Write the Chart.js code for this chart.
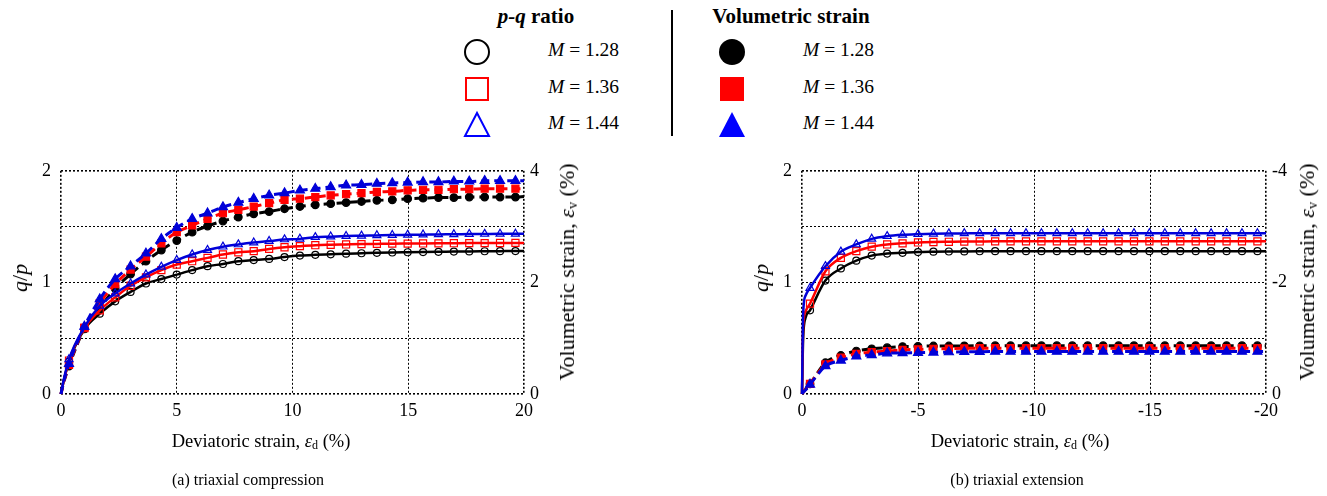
<!DOCTYPE html>
<html>
<head>
<meta charset="utf-8">
<script src="https://cdn.jsdelivr.net/npm/chart.js@4.4.1/dist/chart.umd.min.js"></script>
<style>
  body { margin: 0; width: 1327px; height: 496px; overflow: hidden; background: #fff; position: relative;
         font-family: "Liberation Serif", "Times New Roman", serif; color: #000; }
  .box { position: absolute; top: 150px; height: 300px; }
  .abs { position: absolute; white-space: nowrap; }
  .ctr { position: absolute; white-space: nowrap; transform: translate(-50%, -50%); }
  .rot { position: absolute; white-space: nowrap; transform: translate(-50%, -50%) rotate(-90deg); font-size: 22px; }
  .lt { font-size: 21px; font-weight: bold; }
  .mt { font-size: 19.5px; transform: translateY(-50%); }
  .sym { position: absolute; transform: translate(-50%, -50%); }
  sub { font-size: 0.65em; vertical-align: -0.2em; line-height: 0; }
</style>
</head>
<body>

<!-- legend -->
<div class="ctr lt" style="left:536px; top:16px;"><i>p-q</i> ratio</div>
<div class="ctr lt" style="left:791px; top:16px;">Volumetric strain</div>
<div class="abs" style="left:671px; top:10px; width:2px; height:126px; background:#000;"></div>

<svg class="sym" style="left:477px; top:52px;" width="30" height="30"><circle cx="15" cy="15" r="12" fill="none" stroke="#000" stroke-width="2"/></svg>
<svg class="sym" style="left:477px; top:89px;" width="30" height="30"><rect x="4" y="4" width="22" height="22" fill="none" stroke="#ff0000" stroke-width="2"/></svg>
<svg class="sym" style="left:477px; top:124px;" width="30" height="30"><polygon points="3,27 27,27 15,4" fill="none" stroke="#0000ff" stroke-width="2"/></svg>
<svg class="sym" style="left:732px; top:52px;" width="30" height="30"><circle cx="15" cy="15" r="13" fill="#000"/></svg>
<svg class="sym" style="left:732px; top:89px;" width="30" height="30"><rect x="3" y="3" width="24" height="24" fill="#ff0000"/></svg>
<svg class="sym" style="left:732px; top:124px;" width="30" height="30"><polygon points="2,28 28,28 15,3" fill="#0000ff"/></svg>

<div class="abs mt" style="left:548px; top:50px;"><i>M</i> = 1.28</div>
<div class="abs mt" style="left:548px; top:87px;"><i>M</i> = 1.36</div>
<div class="abs mt" style="left:548px; top:123px;"><i>M</i> = 1.44</div>
<div class="abs mt" style="left:803px; top:50px;"><i>M</i> = 1.28</div>
<div class="abs mt" style="left:803px; top:87px;"><i>M</i> = 1.36</div>
<div class="abs mt" style="left:803px; top:123px;"><i>M</i> = 1.44</div>

<div class="box" style="left:0px; width:600px;"><canvas id="comp" width="600" height="300"></canvas></div>
<div class="box" style="left:741px; width:586px;"><canvas id="ext" width="586" height="300"></canvas></div>

<!-- axis titles -->
<div class="rot" style="left:20px; top:278px;"><i>q</i>/<i>p</i></div>
<div class="rot" style="left:567px; top:272px;">Volumetric strain, <i>ε</i><sub>v</sub> (%)</div>
<div class="ctr" style="left:261px; top:441px; font-size:18.5px;">Deviatoric strain, <i>ε</i><sub>d</sub> (%)</div>
<div class="ctr" style="left:248px; top:480px; font-size:16px;">(a) triaxial compression</div>

<div class="rot" style="left:761px; top:278px;"><i>q</i>/<i>p</i></div>
<div class="rot" style="left:1307px; top:272px;">Volumetric strain, <i>ε</i><sub>v</sub> (%)</div>
<div class="ctr" style="left:1020px; top:441px; font-size:18.5px;">Deviatoric strain, <i>ε</i><sub>d</sub> (%)</div>
<div class="ctr" style="left:1017px; top:480px; font-size:16px;">(b) triaxial extension</div>

<script>
// triaxial compression: deviatoric strain (%)
const epsComp = [0, 0.1, 0.345, 1.01, 1.675, 2.34, 3.005, 3.67, 4.335, 5.0, 5.665, 6.33, 6.995, 7.66, 8.325,
  8.99, 9.655, 10.32, 10.985, 11.65, 12.315, 12.98, 13.645, 14.31, 14.975, 15.64, 16.305, 16.97, 17.635,
  18.3, 18.965, 19.63, 20];
// q/p
const qpComp128 = [0, 0.10, 0.29, 0.58, 0.72, 0.83, 0.915, 0.99, 1.03, 1.07, 1.11, 1.145, 1.165, 1.19, 1.20,
  1.21, 1.227, 1.24, 1.247, 1.252, 1.257, 1.261, 1.265, 1.268, 1.270, 1.272, 1.274, 1.276, 1.278, 1.279,
  1.280, 1.281, 1.281];
const qpComp136 = [0, 0.10, 0.30, 0.59, 0.75, 0.866, 0.97, 1.045, 1.11, 1.16, 1.19, 1.22, 1.25, 1.27, 1.28,
  1.30, 1.315, 1.325, 1.333, 1.337, 1.340, 1.343, 1.345, 1.347, 1.348, 1.349, 1.350, 1.351, 1.352, 1.352,
  1.353, 1.354, 1.354];
const qpComp144 = [0, 0.11, 0.31, 0.60, 0.79, 0.90, 0.99, 1.07, 1.14, 1.20, 1.25, 1.29, 1.32, 1.34, 1.357,
  1.37, 1.385, 1.39, 1.405, 1.41, 1.415, 1.418, 1.421, 1.424, 1.426, 1.428, 1.430, 1.431, 1.433, 1.434,
  1.435, 1.435, 1.436];
// volumetric strain (%)
const volComp128 = [0, 0.18, 0.50, 1.17, 1.54, 1.89, 2.15, 2.38, 2.58, 2.75, 2.90, 3.01, 3.10, 3.17, 3.23,
  3.27, 3.32, 3.36, 3.39, 3.41, 3.43, 3.45, 3.47, 3.48, 3.50, 3.51, 3.52, 3.52, 3.53, 3.53, 3.53, 3.53, 3.54];
const volComp136 = [0, 0.19, 0.52, 1.19, 1.63, 1.97, 2.23, 2.46, 2.70, 2.90, 3.02, 3.14, 3.24, 3.30, 3.36,
  3.42, 3.48, 3.50, 3.53, 3.56, 3.58, 3.60, 3.62, 3.63, 3.65, 3.66, 3.66, 3.67, 3.67, 3.68, 3.68, 3.68, 3.68];
const volComp144 = [0, 0.20, 0.54, 1.21, 1.70, 2.06, 2.29, 2.52, 2.78, 2.98, 3.14, 3.24, 3.35, 3.43, 3.50,
  3.56, 3.60, 3.65, 3.68, 3.71, 3.74, 3.75, 3.77, 3.78, 3.79, 3.80, 3.80, 3.81, 3.81, 3.82, 3.82, 3.82, 3.82];

// triaxial extension: deviatoric strain (%)
const epsExt = [0, -0.05, -0.15, -0.345, -1.01, -1.675, -2.34, -3.005, -3.67, -4.335, -5.0, -5.665, -6.33,
  -6.995, -7.66, -8.325, -8.99, -9.655, -10.32, -10.985, -11.65, -12.315, -12.98, -13.645, -14.31, -14.975,
  -15.64, -16.305, -16.97, -17.635, -18.3, -18.965, -19.63, -20];
const qpExt128 = [0, 0.50, 0.68, 0.75, 1.016, 1.125, 1.195, 1.24, 1.258, 1.265, 1.272, 1.275, 1.277, 1.278,
  1.279, 1.28, 1.28, 1.28, 1.28, 1.28, 1.28, 1.28, 1.28, 1.28, 1.28, 1.28, 1.28, 1.28, 1.28, 1.28, 1.28,
  1.28, 1.28, 1.28];
const qpExt136 = [0, 0.60, 0.74, 0.81, 1.10, 1.22, 1.28, 1.32, 1.34, 1.35, 1.358, 1.362, 1.364, 1.366,
  1.367, 1.368, 1.368, 1.368, 1.368, 1.368, 1.368, 1.368, 1.368, 1.368, 1.368, 1.368, 1.368, 1.368, 1.368,
  1.368, 1.368, 1.368, 1.368, 1.368];
const qpExt144 = [0, 0.72, 0.88, 0.95, 1.145, 1.275, 1.34, 1.39, 1.414, 1.426, 1.432, 1.436, 1.438, 1.439,
  1.44, 1.44, 1.44, 1.44, 1.44, 1.44, 1.44, 1.44, 1.44, 1.44, 1.44, 1.44, 1.44, 1.44, 1.44, 1.44, 1.44,
  1.44, 1.44, 1.44];
const volExt128 = [0, -0.03, -0.08, -0.18, -0.56, -0.69, -0.77, -0.81, -0.83, -0.85, -0.855, -0.86, -0.86,
  -0.862, -0.864, -0.866, -0.866, -0.866, -0.866, -0.866, -0.866, -0.866, -0.866, -0.866, -0.866, -0.866,
  -0.866, -0.866, -0.866, -0.866, -0.866, -0.866, -0.866, -0.866];
const volExt136 = [0, -0.03, -0.08, -0.18, -0.53, -0.65, -0.72, -0.75, -0.77, -0.79, -0.80, -0.81, -0.815,
  -0.818, -0.82, -0.82, -0.82, -0.82, -0.82, -0.82, -0.82, -0.82, -0.82, -0.82, -0.82, -0.82, -0.82, -0.82,
  -0.82, -0.82, -0.82, -0.82, -0.82, -0.82];
const volExt144 = [0, -0.03, -0.07, -0.17, -0.50, -0.60, -0.675, -0.70, -0.73, -0.735, -0.74, -0.745, -0.75,
  -0.755, -0.758, -0.76, -0.76, -0.76, -0.76, -0.76, -0.76, -0.76, -0.76, -0.76, -0.76, -0.76, -0.76, -0.76,
  -0.76, -0.76, -0.76, -0.76, -0.76, -0.76];

const xTicks = [0, 5, 10, 15, 20];

const BLUE = "#0000d8";
const RED = "#ff0000";
const BLACK = "#000000";

Chart.defaults.font.family = "'Liberation Serif', 'Times New Roman', serif";
Chart.defaults.font.size = 18;
Chart.defaults.color = "#000";

function series(xs, ys, color, style, filled, axis, first, ord) {
  const last = xs.length - 1;
  const size = filled
    ? { circle: 3.8, rect: 5, triangle: 5.2 }[style]
    : { circle: 3.5, rect: 5, triangle: 4.6 }[style];
  return {
    data: xs.map((x, i) => ({ x: x, y: ys[i] })),
    yAxisID: axis,
    showLine: true,
    borderColor: color,
    borderWidth: filled ? 3 : 2.5,
    borderDash: filled ? [8, 5] : [],
    cubicInterpolationMode: "monotone",
    pointStyle: style,
    // the first few points and the end point only shape the curve
    pointRadius: (c) => (c.dataIndex >= first && c.dataIndex < last ? size : 0),
    pointHoverRadius: 0,
    pointBorderColor: color,
    pointBackgroundColor: filled ? color : "rgba(0,0,0,0)",
    pointBorderWidth: 1.2,
    order: ord,
    clip: false,
  };
}

const edgeWidth = (c) => (c.index === 0 || c.index === c.scale.ticks.length - 1 ? 1.6 : 1);

function makeChart(id, datasets, xMin, xMax, y2Min, y2Max, reverse, rightWidth) {
  new Chart(document.getElementById(id), {
    type: "scatter",
    data: { datasets: datasets },
    options: {
      responsive: false,
      animation: false,
      devicePixelRatio: 1,
      layout: { padding: { top: 13, left: 0, right: 0, bottom: 0 } },
      plugins: { legend: { display: false }, tooltip: { enabled: false } },
      scales: {
        x: {
          type: "linear", min: xMin, max: xMax, reverse: reverse,
          afterBuildTicks: (s) => { s.ticks = xTicks.map((v) => ({ value: reverse ? -v : v })); },
          ticks: { padding: 6, maxRotation: 0, autoSkip: false },
          grid: { color: "#000", lineWidth: edgeWidth, drawTicks: false },
          border: { display: false, dash: [2, 2] },
          afterFit: (s) => { s.height = 56; },
        },
        y: {
          position: "left", min: 0, max: 2,
          ticks: { stepSize: 0.5, padding: 10, autoSkip: false,
            callback: (v) => (Number.isInteger(v) ? v : "") },
          grid: { color: "#000", lineWidth: edgeWidth, drawTicks: false },
          border: { display: false, dash: [2, 2] },
          afterFit: (s) => { s.width = 61; },
        },
        y2: {
          position: "right", min: y2Min, max: y2Max, reverse: reverse,
          ticks: { stepSize: 1, padding: 6, autoSkip: false,
            callback: (v) => (v % 2 === 0 ? v : "") },
          grid: { display: false, drawTicks: false },
          border: { display: false },
          afterFit: (s) => { s.width = rightWidth; },
        },
      },
    },
  });
}

makeChart("comp", [
  series(epsComp, qpComp128, BLACK, "circle", false, "y", 2, 3),
  series(epsComp, qpComp136, RED, "rect", false, "y", 2, 2),
  series(epsComp, qpComp144, BLUE, "triangle", false, "y", 2, 1),
  series(epsComp, volComp128, BLACK, "circle", true, "y2", 2, 3),
  series(epsComp, volComp136, RED, "rect", true, "y2", 2, 2),
  series(epsComp, volComp144, BLUE, "triangle", true, "y2", 2, 1),
], 0, 20, 0, 4, false, 76);

makeChart("ext", [
  series(epsExt, qpExt128, BLACK, "circle", false, "y", 3, 3),
  series(epsExt, qpExt136, RED, "rect", false, "y", 3, 2),
  series(epsExt, qpExt144, BLUE, "triangle", false, "y", 3, 1),
  series(epsExt, volExt128, BLACK, "circle", true, "y2", 3, 3),
  series(epsExt, volExt136, RED, "rect", true, "y2", 3, 2),
  series(epsExt, volExt144, BLUE, "triangle", true, "y2", 3, 1),
], -20, 0, -4, 0, true, 61);
</script>
</body>
</html>
